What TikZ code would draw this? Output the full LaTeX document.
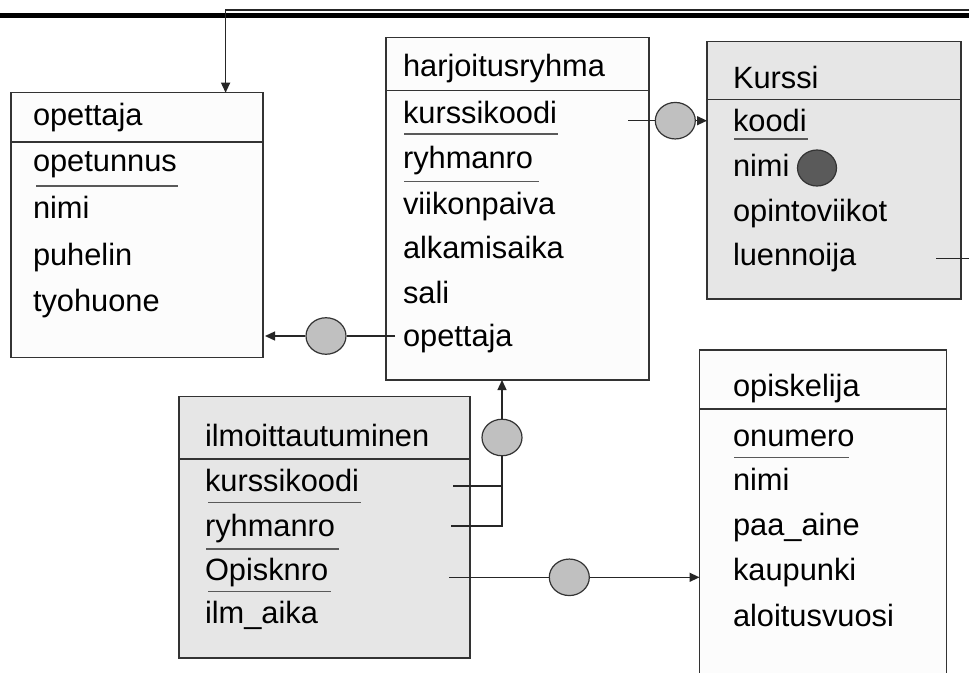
\documentclass[tikz,border=0pt]{standalone}
\usepackage{fontspec}
\setmainfont{Liberation Sans}
\usetikzlibrary{arrows.meta,shapes.geometric}
\definecolor{boxwhite}{HTML}{FCFCFC}
\definecolor{boxgray}{HTML}{E6E6E6}
\definecolor{ellgray}{HTML}{C0C0C0}
\definecolor{elldark}{HTML}{5A5A5A}
\definecolor{edgec}{HTML}{333333}
\begin{document}
\begin{tikzpicture}[x=1pt,y=-1pt,
 tbox/.style={draw=edgec,line width=1.5pt,anchor=north west,inner sep=0,outer sep=0},
 whitebox/.style={tbox,fill=boxwhite},
 graybox/.style={tbox,fill=boxgray},
 attr/.style={anchor=base west,inner sep=0,outer sep=0,font=\fontsize{30.8}{36}\selectfont},
 sepl/.style={draw=edgec,line width=1.3pt},
 uline/.style={draw=black!65,line width=1.4pt},
 conn/.style={draw=black!85,line width=1.3pt},
 arr/.style={conn,-{Triangle[length=10pt,width=9pt]}},
 rel/.style={ellipse,draw=edgec,line width=1.2pt,fill=ellgray,minimum width=40pt,minimum height=36.5pt,inner sep=0},
 reldark/.style={rel,fill=elldark}]
\useasboundingbox (0,0) rectangle (969,672);
\fill[white] (0,0) rectangle (969,672);

% top bar
\fill[black] (0,13.3) rectangle (969,18.3);

% boxes
\node[whitebox,minimum width=252pt,minimum height=265pt] (opBox) at (11,92.7) {};
\node[whitebox,minimum width=263pt,minimum height=342.7pt] (harBox) at (386,37.3) {};
\node[graybox,minimum width=254pt,minimum height=257.3pt] (kurBox) at (707,41.7) {};
\node[graybox,minimum width=291pt,minimum height=261.3pt] (ilmBox) at (179,396.7) {};
\node[whitebox,minimum width=247.2pt,minimum height=340pt] (opsBox) at (699.5,350) {};

% header separators
\draw[sepl] (opBox.west |- 0,142) -- (opBox.east |- 0,142);
\draw[sepl] (harBox.west |- 0,90.7) -- (harBox.east |- 0,90.7);
\draw[sepl] (kurBox.west |- 0,99.3) -- (kurBox.east |- 0,99.3);
\draw[sepl] (ilmBox.west |- 0,459) -- (ilmBox.east |- 0,459);
\draw[sepl] (opsBox.west |- 0,409) -- (opsBox.east |- 0,409);

% opettaja
\node[attr] (opT) at (33,125) {opettaja};
\node[attr] (opA1) at (33,171.7) {opetunnus};
\node[attr] (opA2) at (33,218.3) {nimi};
\node[attr] (opA3) at (33,265) {puhelin};
\node[attr] (opA4) at (33,311.7) {tyohuone};
\draw[uline] (36,186) -- (178,186);

% harjoitusryhma
\node[attr] (harT) at (403,76.7) {harjoitusryhma};
\node[attr] (harA1) at (403,123.8) {kurssikoodi};
\node[attr] (harA2) at (403,168.3) {ryhmanro};
\node[attr] (harA3) at (403,214) {viikonpaiva};
\node[attr] (harA4) at (403,258.3) {alkamisaika};
\node[attr] (harA5) at (403,303.3) {sali};
\node[attr] (harA6) at (403,346.7) {opettaja};
\draw[uline] (404,134) -- (558,134);
\draw[uline] (404,181.7) -- (539,181.7);

% Kurssi
\node[attr] (kurT) at (733,88) {Kurssi};
\node[attr] (kurA1) at (733,131.7) {koodi};
\node[attr] (kurA2) at (733,176) {nimi};
\node[attr] (kurA3) at (733,221) {opintoviikot};
\node[attr] (kurA4) at (733,265.5) {luennoija};
\draw[uline] (734,138.8) -- (808,138.8);
\node[reldark,minimum width=39pt,minimum height=36pt] (kurDot) at (817,168) {};

% ilmoittautuminen
\node[attr] (ilmT) at (205,446.7) {ilmoittautuminen};
\node[attr] (ilmA1) at (205,491.7) {kurssikoodi};
\node[attr] (ilmA2) at (205,536.7) {ryhmanro};
\node[attr] (ilmA3) at (205,580) {Opisknro};
\node[attr] (ilmA4) at (205,623) {ilm\_aika};
\draw[uline] (208,502.7) -- (360.7,502.7);
\draw[uline] (206,549) -- (339,549);
\draw[uline] (208,591.7) -- (331,591.7);

% opiskelija
\node[attr] (opsT) at (733,396.7) {opiskelija};
\node[attr] (opsA1) at (733,446) {onumero};
\node[attr] (opsA2) at (733,490) {nimi};
\node[attr] (opsA3) at (733,535) {paa\_aine};
\node[attr] (opsA4) at (733,580) {kaupunki};
\node[attr] (opsA5) at (733,626) {aloitusvuosi};
\draw[uline] (734,457.3) -- (849,457.3);

% relationship ellipses
\node[rel] (e1) at (326,336) {};
\node[rel] (e2) at (675.3,120.7) {};
\node[rel] (e3) at (502,437.5) {};
\node[rel] (e4) at (569.3,577.3) {};

% connectors
\coordinate (s1) at (395,336);
\draw[conn] (s1) -- (e1);
\draw[arr,shorten >=2pt] (e1) -- (opBox.east |- e1);

\coordinate (s2) at (628,120.7);
\draw[conn] (s2) -- (e2);
\draw[arr] (e2) -- (kurBox.west |- e2);

\coordinate (ik) at (453,486);
\coordinate (ir) at (451,526);
\coordinate (jct) at (502,526);
\draw[conn] (ik) -- (ik -| jct);
\draw[conn] (ir) -- (jct) -- (e3);
\draw[arr] (e3) -- (harBox.south -| e3);

\coordinate (s4) at (449,577.3);
\draw[conn] (s4) -- (e4);
\draw[arr] (e4) -- (opsBox.west |- e4);

\coordinate (luS) at (936,258.5);
\coordinate (topR) at (990,10);
\coordinate (topL) at (225.6,10);
\draw[arr] (luS) -- (luS -| topR) -- (topR) -- (topL) -- (opBox.north -| topL);
\end{tikzpicture}
\end{document}
